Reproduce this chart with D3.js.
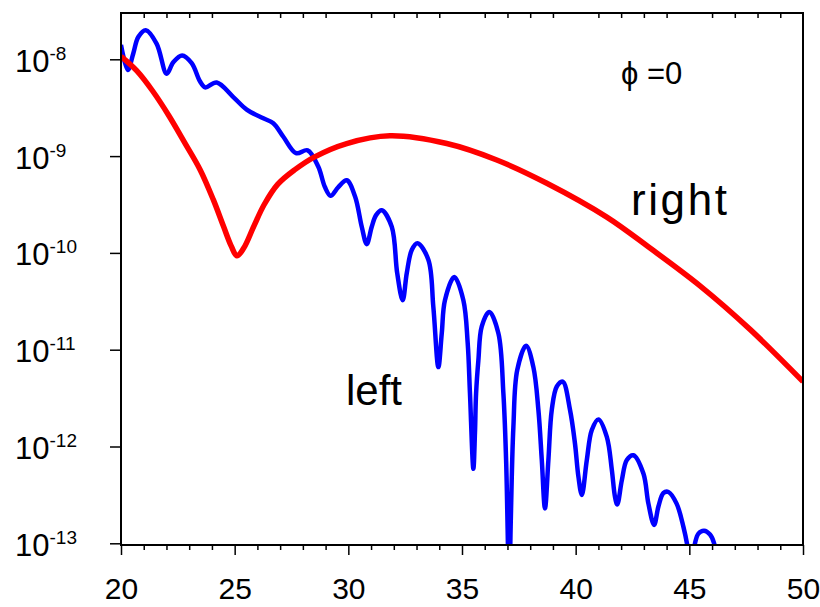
<!DOCTYPE html>
<meta charset="utf-8">
<style>
body{
  margin: 0px;
  background: white;
}
text{
  font-family: "Liberation Sans", Arial, Helvetica, sans-serif;
  fill: black;
}
</style>
<body>
<script src="https://cdn.jsdelivr.net/npm/d3@7"></script>
<script>

// "left" curve, x and log10 of the value
var leftX = [20.00, 20.30, 20.54, 20.76, 21.09, 21.57, 22.01, 22.30, 22.69, 23.11,
  23.48, 23.70, 24.21, 24.94, 25.53, 26.26, 26.70, 27.14, 27.70, 28.21,
  28.68, 28.97, 29.22, 29.56, 29.93, 30.30, 30.59, 30.81, 31.03, 31.22,
  31.47, 31.91, 32.15, 32.39, 32.57, 32.79, 33.04, 33.52, 33.74, 33.96,
  34.11, 34.25, 34.66, 35.06, 35.25, 35.35, 35.50, 35.57, 35.62, 35.72,
  35.87, 36.20, 36.60, 36.82, 36.94, 37.08, 37.14, 37.26, 37.43, 37.82,
  38.14, 38.36, 38.51, 38.65, 38.80, 38.95, 39.17, 39.43, 39.75, 39.97,
  40.12, 40.27, 40.49, 40.71, 41.00, 41.37, 41.59, 41.73, 41.83, 42.03,
  42.25, 42.54, 42.98, 43.20, 43.45, 43.64, 43.86, 44.08, 44.44, 44.74,
  44.91, 45.08, 45.25, 45.40, 45.65, 45.91, 46.09, 46.15]
var leftLog = [-7.85, -8.11, -7.94, -7.77, -7.70, -7.84, -8.15, -8.03, -7.96, -8.04,
  -8.23, -8.29, -8.24, -8.39, -8.52, -8.61, -8.66, -8.80, -8.97, -8.94,
  -9.11, -9.32, -9.41, -9.32, -9.25, -9.42, -9.73, -9.91, -9.73, -9.61,
  -9.56, -9.73, -10.21, -10.49, -10.21, -9.97, -9.90, -10.07, -10.56, -11.18,
  -10.83, -10.49, -10.25, -10.49, -10.93, -11.45, -12.23, -11.86, -11.45, -11.11,
  -10.76, -10.61, -10.83, -11.45, -12.14, -13.50, -12.83, -11.80, -11.21, -10.96,
  -11.18, -11.62, -12.14, -12.64, -12.14, -11.62, -11.38, -11.33, -11.62, -11.97,
  -12.31, -12.50, -12.14, -11.83, -11.72, -11.90, -12.24, -12.52, -12.60, -12.35,
  -12.14, -12.09, -12.28, -12.59, -12.81, -12.62, -12.48, -12.47, -12.59, -12.83,
  -13.02, -13.30, -13.00, -12.90, -12.87, -12.91, -13.00, -13.10]

// "right" curve
var rightX = [20.00, 20.70, 21.40, 22.10, 22.80, 23.48, 24.06, 24.50, 24.85, 25.10,
  25.40, 25.85, 26.30, 26.90, 27.65, 28.50, 29.93, 31.83, 34.33, 36.53,
  38.73, 41.37, 43.27, 45.47, 47.67, 50.00]
var rightLog = [-7.97, -8.12, -8.33, -8.58, -8.86, -9.14, -9.45, -9.72, -9.93, -10.03,
  -9.95, -9.72, -9.50, -9.29, -9.14, -9.01, -8.87, -8.79, -8.87, -9.04,
  -9.28, -9.63, -9.95, -10.34, -10.79, -11.33]

var xMajor = [20, 25, 30, 35, 40, 45, 50]
var xMinor = d3.range(21, 50).filter(function(d){ return d % 5 })
var yExp = [-8, -9, -10, -11, -12, -13]

var width = 820,
    height = 607,
    plotL = 121, plotR = 803, plotT = 13, plotB = 545

var svg = d3.select('body').append('svg')
    .attr('width', width)
    .attr('height', height)

var x = d3.scaleLinear().domain([20, 50]).range([plotL, plotR])
var y = d3.scaleLog().domain([1e-13, 1e-8]).range([543.3, 59.3])

svg.append('clipPath').attr('id', 'plot')
  .append('rect')
    .attr('x', plotL).attr('y', plotT)
    .attr('width', plotR - plotL).attr('height', plotB - plotT)

var line = d3.line()
    .x(function(d){ return x(d[0]) })
    .y(function(d){ return y(Math.pow(10, d[1])) })
    .curve(d3.curveCatmullRom.alpha(0.5))

var leftData = leftX.map(function(d, i){ return [d, leftLog[i]] })
var rightData = rightX.map(function(d, i){ return [d, rightLog[i]] })

var g = svg.append('g').attr('clip-path', 'url(#plot)')

g.append('path')
    .attr('d', line(leftData))
    .attr('fill', 'none')
    .attr('stroke', '#0000ff')
    .attr('stroke-width', 4.5)
    .attr('stroke-linejoin', 'round')

g.append('path')
    .attr('d', line(rightData))
    .attr('fill', 'none')
    .attr('stroke', '#ff0000')
    .attr('stroke-width', 5.5)
    .attr('stroke-linejoin', 'round')

// frame
svg.append('rect')
    .attr('x', plotL).attr('y', plotT)
    .attr('width', plotR - plotL).attr('height', plotB - plotT)
    .attr('fill', 'none')
    .attr('stroke', 'black')
    .attr('stroke-width', 2)

function style(sel){
  sel.select('.domain').remove()
  sel.selectAll('line').attr('stroke', 'black').attr('stroke-width', 1.5)
  sel.selectAll('text').style('font-size', '30px').attr('font-family', null)
}

svg.append('g')
    .attr('transform', 'translate(0,' + plotB + ')')
    .call(d3.axisBottom(x).tickValues(xMajor).tickSize(10).tickPadding(23).tickFormat(d3.format('d')))
    .call(style)

svg.append('g')
    .attr('transform', 'translate(0,' + plotB + ')')
    .call(d3.axisBottom(x).tickValues(xMinor).tickSize(5).tickFormat(''))
    .call(style)

svg.append('g')
    .attr('transform', 'translate(0,' + plotT + ')')
    .call(d3.axisBottom(x).tickValues(xMinor).tickSize(5).tickFormat(''))
    .call(style)

var yAxis = svg.append('g')
    .attr('transform', 'translate(' + plotL + ',0)')
    .call(d3.axisLeft(y).tickValues(yExp.map(function(e){ return Math.pow(10, e) }))
      .tickSize(11).tickFormat(''))
    .call(style)

yAxis.selectAll('.tick').each(function(d, i){
  var t = d3.select(this).append('text')
      .attr('x', -106)
      .attr('y', 12)
      .attr('text-anchor', 'start')
      .style('font-size', '31px')
  t.append('tspan').text('10')
  t.append('tspan')
      .attr('dy', -12)
      .style('font-size', '19px')
      .text(yExp[i])
})

svg.append('text')
    .attr('x', 621).attr('y', 84)
    .style('font-size', '31px')
    .text('ϕ =0')

svg.append('text')
    .attr('x', 631).attr('y', 215)
    .attr('textLength', 96)
    .attr('lengthAdjust', 'spacing')
    .style('font-size', '44px')
    .text('right')

svg.append('text')
    .attr('x', 346).attr('y', 405)
    .style('font-size', '42px')
    .text('left')

</script>
